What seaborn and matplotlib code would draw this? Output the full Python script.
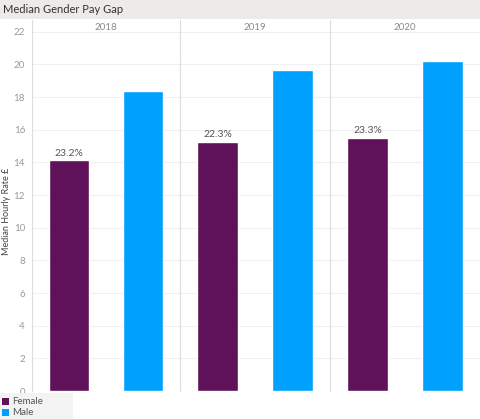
import matplotlib.pyplot as plt
import matplotlib.patches as mpatches
import pandas as pd
import seaborn as sns

years = ["2018", "2019", "2020"]
genders = ["Female", "Male"]
female_rate = [14.12, 15.26, 15.52]
male_rate = [18.39, 19.64, 20.23]
gap_labels = ["23.2%", "22.3%", "23.3%"]
y_ticks = [0, 2, 4, 6, 8, 10, 12, 14, 16, 18, 20, 22]

colors = {"Female": "#5f1259", "Male": "#00a0fe"}

df = pd.DataFrame({
    "year": years * 2,
    "gender": ["Female"] * 3 + ["Male"] * 3,
    "rate": female_rate + male_rate,
})

sns.set_style("white")
plt.rcParams["font.family"] = ["Lato", "DejaVu Sans"]

W, H = 480, 419
fig = plt.figure(figsize=(W / 100, H / 100), dpi=100)

# title bar
fig.patches.append(mpatches.Rectangle((0, 1 - 19 / H), 1, 19 / H, transform=fig.transFigure,
                                      facecolor="#eeeae7", edgecolor="none", zorder=0))
fig.text(3 / W, 1 - 9.5 / H, "Median Gender Pay Gap", fontsize=8, color="#333333",
         va="center", ha="left")

bottom_px, top_px = 391, 20
ymax = (bottom_px - top_px) / 16.33
edges = [32, 180, 330, 480]

axes = []
for i, yr in enumerate(years):
    ax = fig.add_axes([edges[i] / W, (H - bottom_px) / H, (edges[i + 1] - edges[i]) / W,
                       (bottom_px - top_px) / H])
    sub = df[df["year"] == yr]
    sns.barplot(data=sub, x="gender", y="rate", hue="gender", order=genders,
                hue_order=genders, palette=colors, width=0.55, legend=False,
                saturation=1, ax=ax, zorder=3)
    ax.set_xlim(-0.5, 1.5)
    ax.set_ylim(0, ymax)
    ax.set_yticks(y_ticks)
    ax.grid(axis="y", color="#f0f0f0", linewidth=0.8, zorder=0)
    ax.set_xticks([])
    ax.set_xlabel("")
    ax.set_ylabel("")
    for s in ["top", "right", "bottom"]:
        ax.spines[s].set_visible(False)
    ax.spines["left"].set_color("#dcdcdc")
    ax.spines["left"].set_linewidth(0.8)
    ax.text(0.5, ymax - 0.45, yr, ha="center", va="center", fontsize=7, color="#8a8a8a")
    ax.annotate(gap_labels[i], (0, female_rate[i]), xytext=(0, 2), textcoords="offset points",
                ha="center", va="bottom", fontsize=7.5, color="#555555")
    if i == 0:
        ax.tick_params(axis="y", length=0, labelsize=7, labelcolor="#9a9a9a", pad=5)
    else:
        ax.tick_params(axis="y", length=0, labelleft=False)
    axes.append(ax)

fig.text(7 / W, 1 - 211 / H, "Median Hourly Rate £", rotation=90, fontsize=6.5,
         color="#444444", ha="center", va="center")

# legend box
fig.patches.append(mpatches.Rectangle((0, 0), 73 / W, 26 / H, transform=fig.transFigure,
                                      facecolor="#f3f3f3", edgecolor="none", zorder=0))
for j, g in enumerate(genders):
    yc = 1 - (401.5 + 11 * j) / H
    fig.patches.append(mpatches.Rectangle((2 / W, yc - 3.5 / H), 7 / W, 7 / H,
                                          transform=fig.transFigure, facecolor=colors[g],
                                          edgecolor="none"))
    fig.text(12 / W, yc, g, fontsize=7, color="#555555", va="center", ha="left")

fig.savefig("out.png", dpi=100)
